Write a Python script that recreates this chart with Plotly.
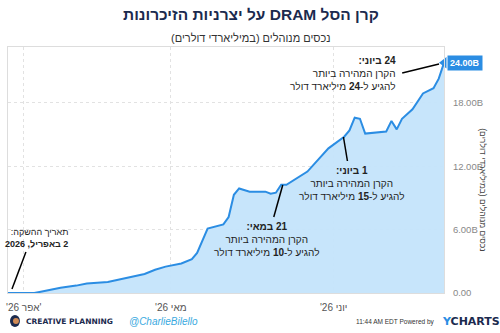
import plotly.graph_objects as go

# ---- data ----
dates = ["2026-04-02", "2026-04-07", "2026-04-08", "2026-04-09", "2026-04-10", "2026-04-12",
         "2026-04-15", "2026-04-17", "2026-04-21", "2026-04-23", "2026-04-25", "2026-04-28",
         "2026-04-30", "2026-05-02", "2026-05-05", "2026-05-07", "2026-05-08", "2026-05-10",
         "2026-05-13", "2026-05-14", "2026-05-15", "2026-05-16", "2026-05-18", "2026-05-21",
         "2026-05-22", "2026-05-23", "2026-05-24", "2026-05-25", "2026-05-29", "2026-05-31",
         "2026-06-02", "2026-06-05", "2026-06-06", "2026-06-07", "2026-06-08", "2026-06-09",
         "2026-06-13", "2026-06-14", "2026-06-15", "2026-06-16", "2026-06-18", "2026-06-20",
         "2026-06-22", "2026-06-23", "2026-06-24"]
aum_bn = [0.0, 0.0, 0.1, 0.2, 0.3, 0.5,
          0.7, 0.9, 1.05, 1.25, 1.5, 1.8,
          2.2, 2.5, 2.8, 3.2, 3.8, 6.1,
          6.5, 7.2, 9.3, 9.9, 9.6, 9.6,
          9.4, 9.5, 10.25, 10.25, 11.5, 12.6,
          13.7, 14.8, 15.4, 16.6, 16.5, 15.1,
          15.3, 16.3, 15.5, 16.5, 17.4, 18.9,
          19.4, 20.3, 21.8]
last_label = "24.00B"

y_tickvals = [0, 6, 12, 18]
y_ticktext = ["0.00", "6.00B", "12.00B", "18.00B"]
x_tickvals = ["2026-04-05", "2026-05-03", "2026-06-03"]
x_ticktext = ["'26 אפר'", "'26 מאי", "'26 יוני"]

title = "קרן הסל DRAM על יצרניות הזיכרונות"
subtitle = "נכסים מנוהלים (במיליארדי דולרים)"
y_title = "נכסים מנוהלים (במיליארדי דולרים)"

RLE, PDF = "\u202B", "\u202C"
def rtl(s):
    return "<br>".join(RLE + ln + PDF for ln in s.split("<br>"))

L, T, W, H = 6, 47, 438, 246
def px(x):
    return (x - L) / W
def py(y):
    return (T + H - y) / H

FONT = "Liberation Sans, Arial, sans-serif"
LINE = "#2b8de3"
FILL = "rgba(196,228,251,0.95)"

fig = go.Figure()
fig.add_trace(go.Scatter(
    x=dates, y=aum_bn, mode="lines", line=dict(color=LINE, width=2),
    fill="tozeroy", fillcolor=FILL, hoverinfo="skip", showlegend=False))
fig.add_trace(go.Scatter(
    x=[dates[-1]], y=[aum_bn[-1]], mode="markers", cliponaxis=False,
    marker=dict(color=LINE, size=10, symbol="triangle-left"),
    showlegend=False, hoverinfo="skip"))

ann = []
def text(x, y, s, size=10, color="#222", xanchor="center", align="center", font=FONT):
    ann.append(dict(xref="paper", yref="paper", x=px(x), y=py(y), text=s, showarrow=False,
                    xanchor=xanchor, yanchor="middle", align=align,
                    font=dict(size=size, color=color, family=font)))

# title + subtitle
text(250, 15, rtl("<b>" + title + "</b>"), size=15.5, color="#1b2a4e")
text(250, 38, rtl(subtitle), size=11, color="#333")

# callouts
text(68, 238, rtl("תאריך ההשקה:<br><b>2 באפריל, 2026</b>"), size=9, xanchor="right", align="right")
text(266, 239, rtl("<b>21 במאי:</b><br>הקרן המהירה ביותר<br>להגיע ל-<b>10</b> מיליארד דולר"), size=10)
text(352, 183, rtl("<b>1 ביוני:</b><br>הקרן המהירה ביותר<br>להגיע ל-<b>15</b> מיליארד דולר"), size=10)
text(398, 73, rtl("<b>24 ביוני:</b><br>הקרן המהירה ביותר<br>להגיע ל-<b>24</b> מיליארד דולר"), size=10, xanchor="right", align="right")

# end value label
ann.append(dict(x=dates[-1], y=aum_bn[-1], xref="x", yref="y", text="<b>" + last_label + "</b>",
                showarrow=False, xanchor="left", yanchor="middle", xshift=3,
                bgcolor=LINE, borderpad=2, font=dict(size=9, color="white", family=FONT)))

# y axis title (rotated)
ann.append(dict(xref="paper", yref="paper", x=px(490), y=py(190), text=rtl(y_title), showarrow=False,
                textangle=90, font=dict(size=8.5, color="#444", family=FONT)))

# footer
text(22, 321, "<b>CREATIVE PLANNING</b>", size=7.5, color="#1b2a4e", xanchor="left", align="left",
     font="DejaVu Sans, sans-serif")
text(126, 321, "<i>@CharlieBilello</i>", size=10, color="#3aa9e0", xanchor="left", align="left")
text(437, 322, "11:44 AM EDT Powered by", size=6.5, color="#333", xanchor="right", align="right")
text(440, 321, "<b><span style='color:#2b8de3'>Y</span>CHARTS</b>", size=11, color="#1b2a4e",
     xanchor="left", align="left", font="DejaVu Sans, sans-serif")

shapes = [
    dict(type="line", xref="paper", yref="paper", x0=px(24), y0=py(252), x1=px(10), y1=py(289),
         line=dict(color="black", width=1.5)),
    dict(type="line", xref="paper", yref="paper", x0=px(282), y0=py(185), x1=px(273), y1=py(217),
         line=dict(color="black", width=1.5)),
    dict(type="line", xref="paper", yref="paper", x0=px(343), y0=py(137), x1=px(347), y1=py(161),
         line=dict(color="black", width=1.5)),
    dict(type="line", xref="paper", yref="paper", x0=px(402), y0=py(73), x1=px(439), y1=py(64),
         line=dict(color="black", width=1.5)),
    # logo
    dict(type="circle", xref="paper", yref="paper", x0=px(8), y0=py(315), x1=px(18), y1=py(327),
         fillcolor="#1b2a4e", line=dict(width=0)),
    dict(type="circle", xref="paper", yref="paper", x0=px(11), y0=py(318), x1=px(17), y1=py(324),
         fillcolor="#d08a55", line=dict(width=0)),
]

fig.update_layout(
    width=500, height=333, margin=dict(l=L, r=500 - L - W, t=T, b=333 - T - H),
    paper_bgcolor="white", plot_bgcolor="white",
    annotations=ann, shapes=shapes,
    font=dict(family=FONT),
    xaxis=dict(type="date", range=[dates[0], dates[-1]], tickvals=x_tickvals, ticktext=x_ticktext,
               showgrid=True, gridcolor="#e2e2e2", griddash="dot", showline=True, mirror=True,
               linecolor="#dddddd", ticks="", tickfont=dict(size=10, color="#555"), zeroline=False,
               ticklabelstandoff=5),
    yaxis=dict(range=[0, 23.3], side="right", tickvals=y_tickvals, ticktext=y_ticktext,
               showgrid=True, gridcolor="#e2e2e2", griddash="dot", showline=True, mirror=True,
               linecolor="#dddddd", ticks="", tickfont=dict(size=9.5, color="#888"), zeroline=False,
               ticklabelstandoff=6),
)

fig.write_html("out.html")
